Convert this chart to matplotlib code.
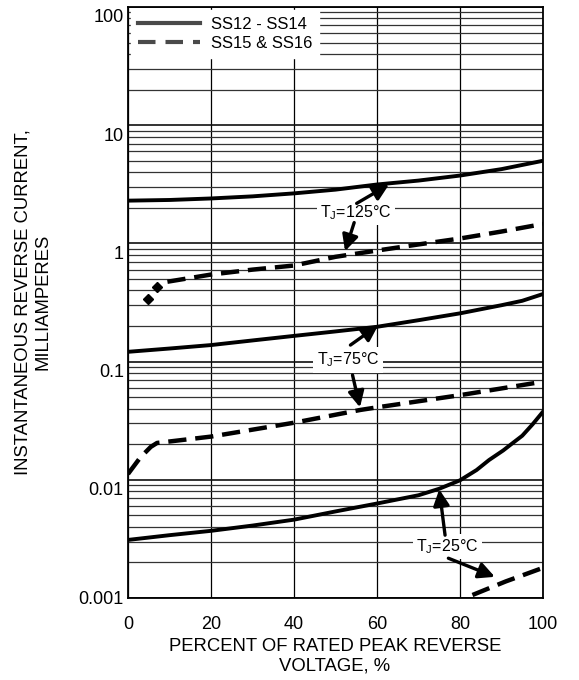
import numpy as np
import matplotlib
matplotlib.use("Agg")
import matplotlib.pyplot as plt
import matplotlib.transforms as mtransforms
from matplotlib.lines import Line2D
from matplotlib.ticker import LogLocator, FixedLocator, NullFormatter

plt.rcParams['font.family'] = ['Liberation Sans', 'DejaVu Sans']
plt.rcParams['mathtext.fontset'] = 'custom'
plt.rcParams['mathtext.rm'] = 'Liberation Sans'
plt.rcParams['mathtext.it'] = 'Liberation Sans:italic'

# percent of rated peak reverse voltage
x125_a = [0, 10, 20, 30, 40, 50, 60, 70, 80, 90, 100]
y125_a = [2.3, 2.33, 2.4, 2.5, 2.65, 2.85, 3.15, 3.4, 3.75, 4.25, 5.0]
x125_b = [9.5, 20, 30, 40, 50, 60, 70, 80, 90, 100]
y125_b = [0.474, 0.545, 0.6, 0.65, 0.77, 0.87, 0.98, 1.1, 1.26, 1.46]
x125_dots = [4.7, 7.1]
y125_dots = [0.337, 0.43]

x75_a = [0, 10, 20, 30, 40, 50, 60, 70, 80, 90, 95, 100]
y75_a = [0.121, 0.129, 0.138, 0.151, 0.165, 0.18, 0.197, 0.224, 0.256, 0.3, 0.327, 0.373]
x75_b = [0, 3, 5.5, 7, 20, 40, 56, 60, 80, 100]
y75_b = [0.0112, 0.0155, 0.019, 0.0205, 0.0232, 0.0304, 0.039, 0.041, 0.052, 0.0676]

x25_a = [0, 10, 20, 30, 40, 50, 60, 70, 75, 80, 84, 87, 90.4, 92.5, 95, 97.5, 100]
y25_a = [0.0031, 0.0034, 0.0037, 0.0041, 0.0046, 0.0054, 0.0063, 0.0074, 0.0084,
         0.0099, 0.0121, 0.0147, 0.0177, 0.0202, 0.0236, 0.0295, 0.0377]
x25_b = [83, 91, 100]
y25_b = [0.00106, 0.00138, 0.0018]

legend_labels = ['SS12 - SS14', 'SS15 & SS16']
xticks = [0, 20, 40, 60, 80, 100]
yticks = [0.001, 0.01, 0.1, 1, 10, 100]
ytick_labels = ['0.001', '0.01', '0.1', '1', '10', '100']

DASH = (4.1, 2.0)
LW = 2.8
LWD = 3.2

fig = plt.figure(figsize=(5.79, 6.8), dpi=100)
ax = fig.add_axes([128 / 579, 1 - 598 / 680, 415 / 579, 591 / 680])
ax.set_yscale('log')
ax.set_xlim(0, 100)
ax.set_ylim(0.001, 100)

ax.xaxis.set_major_locator(FixedLocator(xticks))
ax.set_xticklabels([str(t) for t in xticks])
ax.yaxis.set_major_locator(FixedLocator(yticks))
ax.set_yticklabels(ytick_labels)
ax.yaxis.set_minor_locator(LogLocator(base=10, subs=range(2, 10), numticks=20))
ax.yaxis.set_minor_formatter(NullFormatter())
ax.tick_params(which='both', length=0, labelsize=13)
ax.tick_params(axis='x', pad=13)
ax.tick_params(axis='y', pad=3)

ax.grid(True, which='major', axis='x', color='black', lw=0.9)
ax.grid(True, which='major', axis='y', color='#111111', lw=1.2)
ax.grid(True, which='minor', axis='y', color='#333333', lw=0.9)
ax.set_axisbelow(True)
for s in ax.spines.values():
    s.set_linewidth(1.3)

# curves
ax.plot(x125_a, y125_a, color='black', lw=LW)
ax.plot(x125_b, y125_b, color='black', lw=LWD, dashes=DASH)
ax.plot(x125_dots, y125_dots, 'D', color='black', ms=5, ls='none')
ax.plot(x75_a, y75_a, color='black', lw=LW)
ax.plot(x75_b, y75_b, color='black', lw=LWD, dashes=DASH)
ax.plot(x25_a, y25_a, color='black', lw=LW)
ax.plot(x25_b, y25_b, color='black', lw=LWD, dashes=DASH)

# annotations
tstyle = dict(fontsize=11.5, ha='center', va='center', zorder=5,
              bbox=dict(facecolor='white', edgecolor='none', pad=2.5))
aprops = dict(arrowstyle='-|>', color='black', lw=2.4, mutation_scale=24,
              shrinkA=0, shrinkB=0)

ax.text(54.9, 1.83, 'T$_{\\mathrm{J}}$=125°C', **tstyle)
ax.annotate('', xy=(62.9, 3.15), xytext=(55.1, 2.18), arrowprops=aprops, zorder=6)
ax.annotate('', xy=(52.3, 0.86), xytext=(54.5, 1.5), arrowprops=aprops, zorder=6)

ax.text(53.0, 0.103, 'T$_{\\mathrm{J}}$=75°C', **tstyle)
ax.annotate('', xy=(60.3, 0.203), xytext=(53.6, 0.138), arrowprops=aprops, zorder=6)
ax.annotate('', xy=(55.9, 0.041), xytext=(54.1, 0.077), arrowprops=aprops, zorder=6)

ax.text(77.0, 0.00272, 'T$_{\\mathrm{J}}$=25°C', **tstyle)
ax.annotate('', xy=(75.0, 0.0083), xytext=(76.4, 0.0034), arrowprops=aprops, zorder=6)
ax.annotate('', xy=(88.4, 0.00151), xytext=(77.2, 0.00217), arrowprops=aprops, zorder=6)

# legend
handles = [Line2D([], [], color='#4a4a4a', lw=3),
           Line2D([], [], color='#4a4a4a', lw=3, dashes=(4.2, 2.4))]
leg = ax.legend(handles, legend_labels, loc='upper left', fontsize=12,
                frameon=True, fancybox=False, framealpha=1, edgecolor='white',
                handlelength=3.7, handletextpad=0.7, labelspacing=0.25,
                borderpad=0.4, borderaxespad=0.2)
leg.set_zorder(7)

# y tick labels sit a bit below their gridlines
off = mtransforms.ScaledTranslation(0, -9 / 100, fig.dpi_scale_trans)
for tick in ax.yaxis.get_major_ticks()[1:]:
    tick.label1.set_transform(tick.label1.get_transform() + off)

fig.text(33 / 579, 1 - 302 / 680, 'INSTANTANEOUS REVERSE CURRENT,\nMILLIAMPERES',
         rotation=90, ha='center', va='center', fontsize=13.3, linespacing=1.2,
         multialignment='center')
fig.text(335 / 579, 1 - 656 / 680, 'PERCENT OF RATED PEAK REVERSE\nVOLTAGE, %',
         ha='center', va='center', fontsize=13.3, linespacing=1.2,
         multialignment='center')

fig.savefig('out.png', dpi=100)
